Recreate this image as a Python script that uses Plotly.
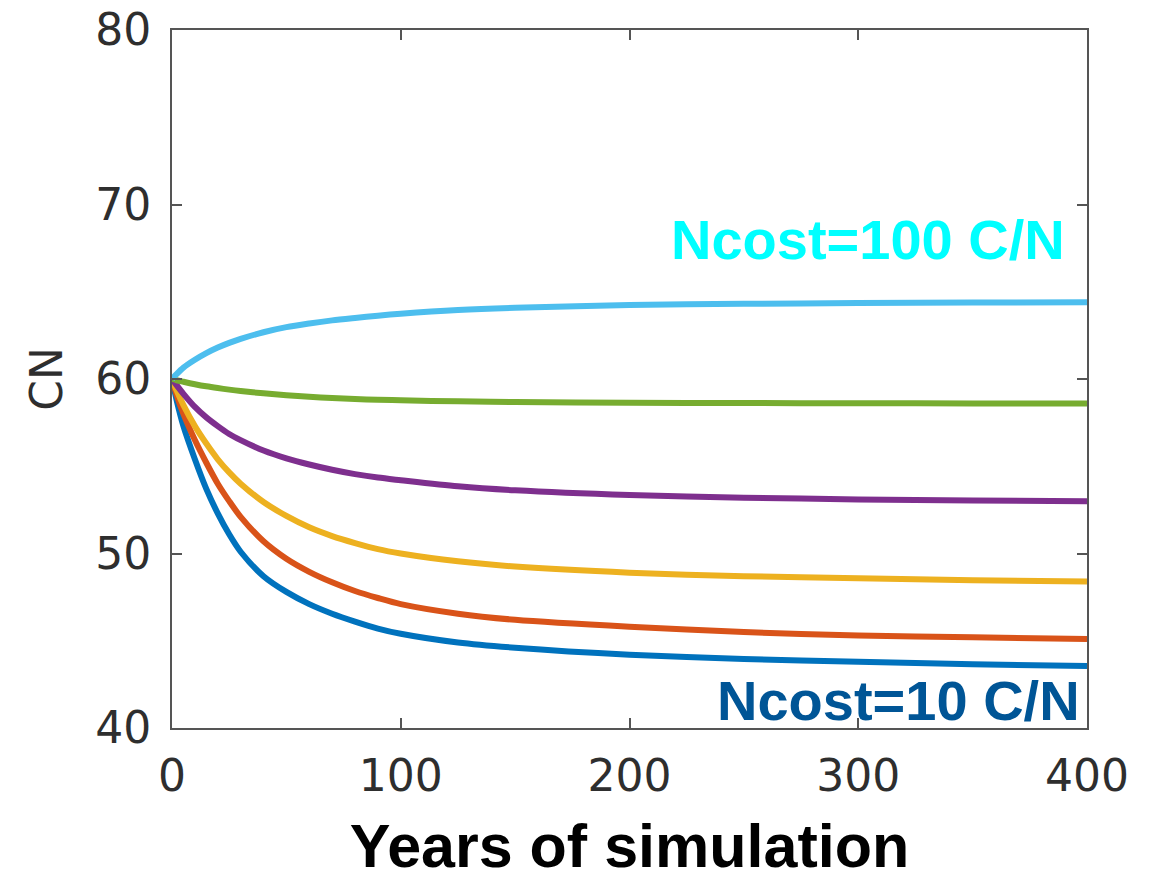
import plotly.graph_objects as go

years = [0, 2, 5, 10, 15, 20, 25, 30, 40, 50, 60, 70, 80, 90, 100, 125, 150, 200, 250, 300, 350, 400]

cn_ncost10 = [60, 58.8, 57.3, 55.4, 53.7, 52.3, 51.1, 50.1, 48.7, 47.8, 47.1, 46.55, 46.1, 45.7, 45.4, 44.9, 44.6, 44.2, 43.95, 43.8, 43.65, 43.55]
cn_ncost_b = [60, 59.1, 58.0, 56.5, 55.2, 54.0, 53.0, 52.1, 50.7, 49.7, 48.95, 48.35, 47.85, 47.45, 47.1, 46.55, 46.2, 45.8, 45.5, 45.3, 45.2, 45.1]
cn_ncost_c = [60, 59.35, 58.5, 57.3, 56.3, 55.4, 54.65, 54.0, 52.95, 52.15, 51.5, 51.0, 50.6, 50.25, 50.0, 49.55, 49.25, 48.9, 48.7, 48.58, 48.47, 48.4]
cn_ncost_d = [60, 59.65, 59.15, 58.4, 57.8, 57.3, 56.85, 56.5, 55.9, 55.45, 55.1, 54.8, 54.55, 54.35, 54.2, 53.85, 53.62, 53.35, 53.2, 53.1, 53.04, 53.0]
cn_ncost_e = [60, 59.93, 59.84, 59.7, 59.58, 59.48, 59.39, 59.31, 59.18, 59.07, 58.98, 58.91, 58.85, 58.81, 58.78, 58.72, 58.68, 58.64, 58.62, 58.61, 58.6, 58.6]
cn_ncost100 = [60, 60.28, 60.65, 61.1, 61.48, 61.8, 62.07, 62.3, 62.68, 62.97, 63.18, 63.36, 63.5, 63.63, 63.74, 63.95, 64.08, 64.24, 64.31, 64.35, 64.38, 64.4]

series = [
    (cn_ncost10, "#0072BD"),
    (cn_ncost_b, "#D95319"),
    (cn_ncost_c, "#EDB120"),
    (cn_ncost_d, "#7E2F8E"),
    (cn_ncost_e, "#77AC30"),
    (cn_ncost100, "#4DBEEE"),
]

fig = go.Figure()
for vals, col in series:
    fig.add_trace(go.Scatter(x=years, y=vals, mode="lines",
                             line=dict(color=col, width=6, shape="spline", smoothing=0.8),
                             showlegend=False, cliponaxis=False))

fig.add_annotation(x=391.3, y=67.97, xref="x", yref="y", text="Ncost=100 C/N",
                   showarrow=False, xanchor="right", yanchor="middle",
                   font=dict(family="Liberation Sans", size=56, color="#00FFFF", weight="bold"))
fig.add_annotation(x=397.8, y=41.6, xref="x", yref="y", text="Ncost=10 C/N",
                   showarrow=False, xanchor="right", yanchor="middle",
                   font=dict(family="Liberation Sans", size=56, color="#005596", weight="bold"))

axis_common = dict(showgrid=False, zeroline=False, showline=True, linecolor="#555555",
                   linewidth=2, mirror="ticks", ticks="inside", ticklen=10, tickwidth=2,
                   tickcolor="#555555", automargin=False, ticklabeloverflow="allow",
                   tickfont=dict(family="DejaVu Sans", size=44, color="#2e2e2e"))

fig.update_xaxes(range=[0, 400], tickvals=[0, 100, 200, 300, 400], ticklabelstandoff=8,
                 title=dict(text="<b>Years of simulation</b>",
                            font=dict(family="Liberation Sans", size=61, color="#000000"),
                            standoff=34),
                 **axis_common)
fig.update_yaxes(range=[40, 80], tickvals=[40, 50, 60, 70, 80], ticklabelstandoff=10,
                 title=dict(text="CN", font=dict(family="DejaVu Sans", size=44, color="#2e2e2e"),
                            standoff=19),
                 **axis_common)

fig.update_layout(width=1157, height=880, plot_bgcolor="white", paper_bgcolor="white",
                  margin=dict(l=172, r=70, t=30, b=152))

fig.write_html("out.html", config={"displayModeBar": False},
               post_script="document.body.style.margin='0';")
